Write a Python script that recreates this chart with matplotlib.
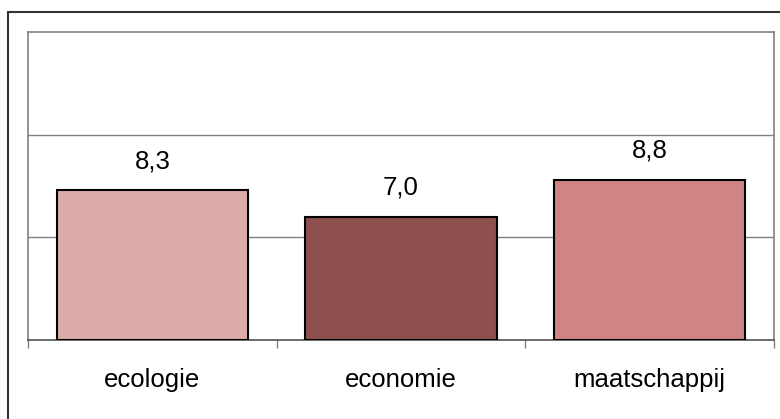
import matplotlib.pyplot as plt
import matplotlib.patches as patches

categories = ['ecologie', 'economie', 'maatschappij']
values = [8.3, 7.0, 8.8]
value_labels = ['8,3', '7,0', '8,8']
colors = ['#DCACAB', '#8E4F4F', '#D08484']

plt.rcParams['font.family'] = ['Liberation Sans', 'DejaVu Sans']

fig = plt.figure(figsize=(7.8, 4.19), dpi=100)
ax = fig.add_axes([28 / 780, 79 / 419, 746 / 780, 308 / 419])

# outer frame (only top and left edges fall inside the picture)
fig.patches.append(patches.Rectangle((8 / 780, -0.1), 1.2, 0.1 + 407 / 419,
                                     transform=fig.transFigure, fill=False,
                                     edgecolor='#333333', linewidth=1.5))

x = range(len(categories))
ax.bar(x, [v - 1 for v in values], bottom=1, width=0.77, color=colors,
       edgecolor='black', linewidth=1.5, zorder=3)

for xi, v, lab in zip(x, values, value_labels):
    ax.annotate(lab, (xi, v), xytext=(0, 17), textcoords='offset pixels',
                ha='center', va='bottom', fontsize=18.5)

ax.set_xlim(-0.5, 2.5)
ax.set_ylim(1, 16)
ax.set_yticks([6, 11])
ax.yaxis.grid(True, color='#808080', linewidth=1)
ax.tick_params(axis='y', length=0, labelleft=False)

ax.set_xticks([-0.5, 0.5, 1.5, 2.5])
ax.set_xticklabels([])
ax.tick_params(axis='x', which='major', length=6, color='#808080', width=1)
ax.set_xticks(list(x), minor=True)
ax.set_xticklabels(categories, minor=True, fontsize=18.5)
ax.tick_params(axis='x', which='minor', length=0, pad=20)

for side in ['left', 'right', 'top']:
    ax.spines[side].set_color('#808080')
    ax.spines[side].set_linewidth(1.2)
ax.spines['bottom'].set_color('#505050')
ax.spines['bottom'].set_linewidth(1.2)

fig.savefig('out.png', dpi=100)
